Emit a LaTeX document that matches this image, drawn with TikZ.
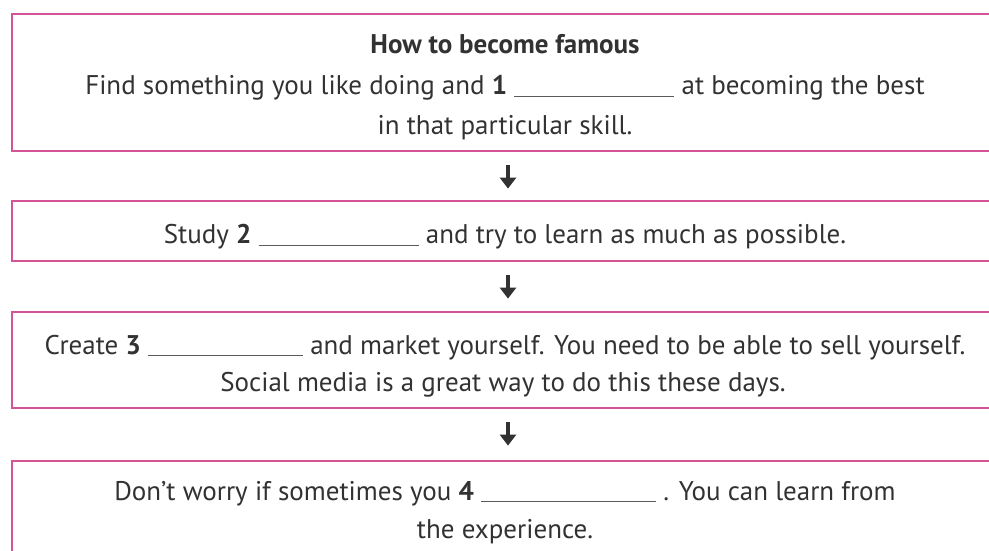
\documentclass[tikz,border=0pt]{standalone}
\usepackage{fontspec}
\setmainfont{PT Sans}
\usetikzlibrary{arrows.meta}
\definecolor{boxpink}{RGB}{212,84,152}
\definecolor{txt}{RGB}{50,50,50}
\newcommand{\blank}[1]{\textcolor{txt!80}{\rule[-2pt]{#1pt}{1.1pt}}}
\tikzset{
  x=1pt, y=1pt,
  stepbox/.style={draw=boxpink, line width=2.8pt, minimum width=988pt, inner sep=0pt},
  line/.style={text=txt, font=\fontsize{27}{30}\selectfont, inner sep=0pt, anchor=base},
  arr/.style={draw=txt, line width=3.4pt, -{Triangle[width=16pt,length=11pt]}}
}
\begin{document}
\begin{tikzpicture}
\useasboundingbox (0,0) rectangle (989,550);
\node[stepbox, minimum height=137pt] (b1) at (506,467.5) {};
\node[stepbox, minimum height=60pt] (b2) at (506,319) {};
\node[stepbox, minimum height=96pt] (b3) at (506,190) {};
\node[stepbox, minimum height=109pt] (b4) at (506,34.5) {};
% texts
\node[line] (t1) at (505,496) {\textbf{How to become famous}};
\node[line] (t2) at (505,455) {Find something you like doing and \textbf{1} \blank{160} at becoming the best};
\node[line] (t3) at (505,415) {in that particular skill.};
\node[line] (t4) at (505,306) {Study \textbf{2} \blank{160} and try to learn as much as possible.};
\node[line] (t5) at (505,196) {Create \textbf{3} \blank{155} and market yourself. You need to be able to sell yourself.};
\node[line] (t6) at (503,159) {Social media is a great way to do this these days.};
\node[line] (t7) at (505,50) {Don’t worry if sometimes you \textbf{4} \blank{175} . You can learn from};
\node[line] (t8) at (505,12) {the experience.};
% arrows
\draw[arr, shorten <=13pt, shorten >=11pt] ([xshift=2pt]b1.south) -- ([xshift=2pt]b2.north);
\draw[arr, shorten <=13pt, shorten >=12pt] ([xshift=2pt]b2.south) -- ([xshift=2pt]b3.north);
\draw[arr, shorten <=13pt, shorten >=14pt] ([xshift=2pt]b3.south) -- ([xshift=2pt]b4.north);
\end{tikzpicture}
\end{document}
